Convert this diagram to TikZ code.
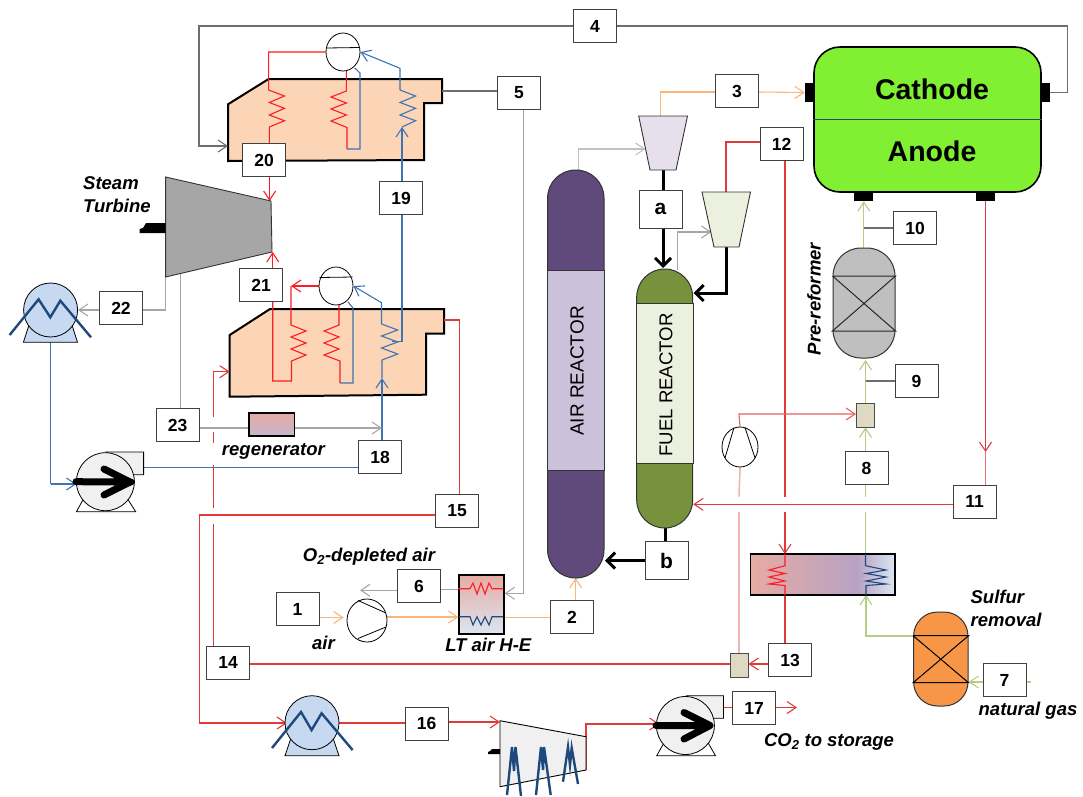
\documentclass[tikz,border=0pt]{standalone}
\usepackage{fontspec}
\setmainfont{Liberation Sans}
\usepackage{xcolor}
\definecolor{strred}{HTML}{E03A3A}
\definecolor{coilred}{HTML}{FF1C24}
\definecolor{pinkred}{HTML}{F0B4B4}
\definecolor{strblue}{HTML}{3F74B4}
\definecolor{deepblue}{HTML}{1F497D}
\definecolor{strgray}{HTML}{A6A6A6}
\definecolor{midgray}{HTML}{6E6E6E}
\definecolor{strorange}{HTML}{F8B67C}
\definecolor{strgreen}{HTML}{B4CC84}
\definecolor{hrsgfill}{HTML}{FBD5B5}
\definecolor{airdk}{HTML}{604A7B}
\definecolor{airlt}{HTML}{CCC1DA}
\definecolor{fueldk}{HTML}{76923C}
\definecolor{fuellt}{HTML}{EBF1DE}
\definecolor{cellgreen}{HTML}{82F032}
\definecolor{sulffill}{HTML}{F79646}
\definecolor{hot}{HTML}{E6ABA3}
\definecolor{mid}{HTML}{B7A2C4}
\definecolor{cold}{HTML}{DCE6F2}
\definecolor{condblue}{HTML}{C6D9F1}
\definecolor{mixfill}{HTML}{DDD9C3}
\usepackage{tikz}
\usetikzlibrary{arrows.meta,positioning,calc,shapes.geometric,backgrounds}
\pgfdeclarehorizontalshading{coolshade}{100bp}{color(0bp)=(hot); color(25bp)=(hot); color(62bp)=(mid); color(75bp)=(cold); color(100bp)=(cold)}
\tikzset{
  >={Straight Barb[length=9pt,width=12pt]},
  numbox/.style={draw=black!75,line width=0.9pt,fill=white,minimum width=43,minimum height=33,inner sep=0pt,font=\fontsize{17.5}{20}\selectfont\bfseries},
  lab/.style={font=\fontsize{18.5}{22}\selectfont\bfseries\itshape,inner sep=0pt},
  vessel/.style={draw=black!80,line width=1pt,inner sep=0pt,rounded corners=28},
  port/.style={fill=black,inner sep=0pt},
  mixbox/.style={draw=black!70,line width=0.9pt,fill=mixfill,minimum width=18,minimum height=24,inner sep=0pt},
  drum/.style={ellipse,draw=black,line width=0.8pt,fill=white,minimum width=34,minimum height=38,inner sep=0pt},
  arr/.style={->,line width=1.1pt},
  lin/.style={line width=1.1pt},
  fat/.style={line width=3pt,-{Straight Barb[length=8pt,width=16pt]}},
  zig/.style={line width=2.4pt,draw=deepblue},
}
\begin{document}
\begin{tikzpicture}[x=1pt,y=-1pt]
\useasboundingbox (0,0) rectangle (1083,796);
% fuel cell
\node[draw=black,line width=1.6pt,fill=cellgreen,rounded corners=26,minimum width=227,minimum height=145,inner sep=0pt] (cell) at (927.5,119.5) {};
\draw[deepblue,line width=0.7pt] (cell.west) -- (cell.east);
\node[font=\fontsize{28.5}{30}\selectfont\bfseries] (cathode) at (932,89) {Cathode};
\node[font=\fontsize{28.5}{30}\selectfont\bfseries] (anode) at (932,151) {Anode};
\node[port,minimum width=9,minimum height=19] (cathin) at (809.5,92.5) {};
\node[port,minimum width=9,minimum height=19] (cathout) at (1045.5,92.5) {};
\node[port,minimum width=19,minimum height=9] (anin) at (863.5,196.5) {};
\node[port,minimum width=19,minimum height=9] (anout) at (985.5,196.5) {};
% reactors
\node[vessel,fill=airdk,minimum width=56.4,minimum height=408] (airr) at (575.8,374) {};
\draw[draw=black!80,line width=1pt,fill=airlt] (airr.west |- 0,270.7) rectangle (airr.east |- 0,470);
\node[rotate=90,font=\fontsize{19}{22}\selectfont] (airlab) at (577,371) {AIR REACTOR};
\node[vessel,fill=fueldk,minimum width=56,minimum height=259] (fuelr) at (664.7,398.5) {};
\draw[draw=black!80,line width=1pt,fill=fuellt] (fuelr.west |- 0,303) rectangle (fuelr.east |- 0,463);
\node[rotate=90,font=\fontsize{18.6}{22}\selectfont] (fuellab) at (666,385) {FUEL REACTOR};
% expanders
\draw[black!80,line width=0.9pt,fill=airlt!50] (638.7,116) -- (687.5,116) -- (676,170) -- (650,170) -- cycle;
\draw[black!80,line width=0.9pt,fill=fuellt] (702,192) -- (750.5,192) -- (739,247) -- (714,247) -- cycle;
% pre-reformer and sulfur bed
\node[vessel,fill=black!25,minimum width=62,minimum height=110] (prer) at (864,303) {};
\draw[black!85,line width=1pt] (prer.west |- 0,276) -- (prer.east |- 0,276) -- (prer.west |- 0,331) -- (prer.east |- 0,331) -- (prer.west |- 0,276) -- (prer.east |- 0,331);
\node[vessel,rounded corners=24,minimum width=54.4,minimum height=94,fill=sulffill] (sulf) at (940.8,659) {};
\draw[black,line width=1pt] (sulf.west |- 0,635.7) -- (sulf.east |- 0,635.7) -- (sulf.west |- 0,682.7) -- (sulf.east |- 0,682.7) -- (sulf.west |- 0,635.7) -- (sulf.east |- 0,682.7);
% turbine
\draw[black!80,line width=0.9pt,fill=black!35] (165.6,177) -- (271,201) -- (272,252) -- (165.6,277) -- cycle;
\fill[black] (139.5,233) -- (165.6,233) -- (165.6,223) -- (146,223) -- (143,228) -- (139.5,229) -- cycle;
% heat exchangers
\node[draw=black,line width=1.2pt,top color=hot,middle color=mid,bottom color=cold,minimum width=45,minimum height=59,inner sep=0pt] (lthe) at (481.5,604.5) {};
\node[draw=black,line width=1.2pt,top color=hot,bottom color=mid!80,minimum width=45.5,minimum height=23,inner sep=0pt] (regen) at (271.7,424.5) {};
\node[draw=black,line width=1.2pt,shading=coolshade,minimum width=144.5,minimum height=41,inner sep=0pt] (cooler) at (822.7,574.5) {};
\node[mixbox] (mixa) at (865.5,415) {};
\node[mixbox] (mixb) at (739,665) {};
% drums, compressors
\node[drum] (drumup) at (343,52) {};
\draw[black,line width=0.8pt] (326.5,48) -- (359.5,47.5);
\node[drum] (drumlo) at (336,286) {};
\draw[black,line width=0.8pt] (319.5,277.5) -- (352.5,277);
\node[drum,minimum width=40,minimum height=43] (aircomp) at (367,620.5) {};
\draw[black,line width=0.8pt] (358,600.5) -- (386,613) (358,638.5) -- (386,627);
\node[drum,minimum width=36,minimum height=40] (recyc) at (740,447) {};
\draw[black,line width=0.8pt] (734,427.5) -- (725,458) (745,427.5) -- (755,458);
% condensers
\draw[black,line width=0.8pt,fill=condblue] (29,325) -- (23.4,342.3) -- (77.5,342.3) -- (72,325) -- cycle;
\node[circle,draw=black,line width=0.8pt,fill=condblue,minimum size=54,inner sep=0pt] (condup) at (50.6,310) {};
\draw[zig] (9.6,335) -- (38.6,299.3) -- (50.3,317.3) -- (60.3,300.7) -- (91,337.3);
\draw[black,line width=0.8pt,fill=condblue] (291,738) -- (285,755.7) -- (339,755.7) -- (333,738) -- cycle;
\node[circle,draw=black,line width=0.8pt,fill=condblue,minimum size=54,inner sep=0pt] (condlo) at (312,722.7) {};
\draw[zig] (272,748) -- (301,712) -- (311.6,730) -- (321.6,713.3) -- (352.6,750);
% pumps
\draw[black,line width=0.8pt,fill=black!6] (106,452) -- (143.6,452) -- (143.6,474.7) -- (125,474.7) -- cycle;
\draw[black,line width=0.8pt] (84,498) -- (76.4,511.7) -- (135.7,511.7) -- (127,498);
\node[circle,draw=black,line width=0.8pt,fill=black!6,minimum size=58,inner sep=0pt] (pumpa) at (105.4,481.7) {};
\draw[line width=7pt,line cap=round,line join=round] (pumpa.west) -- (131,482) (104,469) -- (130,482) -- (104,495);
\draw[black,line width=0.8pt,fill=black!6] (686.5,695.7) -- (723.5,695.7) -- (723.5,718.3) -- (705,718.3) -- cycle;
\draw[black,line width=0.8pt] (665,741) -- (656.7,755.7) -- (715.5,755.7) -- (707,741);
\node[circle,draw=black,line width=0.8pt,fill=black!6,minimum size=58,inner sep=0pt] (pumpb) at (685.4,725.5) {};
\draw[line width=7pt,line cap=round,line join=round] (pumpb.west) -- (710,725.5) (684,712.5) -- (710,725.5) -- (684,739);
% co2 compressor
\draw[black,line width=0.9pt,fill=black!6] (500,720.7) -- (586,736.7) -- (586,770) -- (500,786.7) -- cycle;
\fill[black] (488,754) -- (500,754) -- (500,749) -- (492,749) -- (490,751) -- (488,752) -- cycle;
\draw[zig] (507,795) -- (512,747) -- (514,771) -- (515.5,747) -- (521,796);
\draw[zig] (536,795) -- (541,747) -- (543,770) -- (544,747) -- (550.7,795);
\draw[zig] (563,781.7) -- (568,747) -- (570,765) -- (571.7,748) -- (578,784);
% numbers
\node[numbox] (s1) at (297.5,609) {1};
\node[numbox] (s2) at (572,617) {2};
\node[numbox] (s3) at (737,91) {3};
\node[numbox] (s4) at (595,26) {4};
\node[numbox] (s5) at (519,93) {5};
\node[numbox] (s6) at (419,586) {6};
\node[numbox] (s7) at (1004.5,680) {7};
\node[numbox] (s8) at (866.5,468) {8};
\node[numbox] (s9) at (916.5,381) {9};
\node[numbox] (s10) at (915,228) {10};
\node[numbox] (s11) at (974.5,501.5) {11};
\node[numbox] (s12) at (781.5,144) {12};
\node[numbox] (s13) at (790,660) {13};
\node[numbox] (s14) at (228,662.5) {14};
\node[numbox] (s15) at (457,511) {15};
\node[numbox] (s16) at (426.5,723.5) {16};
\node[numbox] (s17) at (754,708) {17};
\node[numbox] (s18) at (380,457) {18};
\node[numbox] (s19) at (401,198) {19};
\node[numbox] (s20) at (264,160) {20};
\node[numbox] (s21) at (261,285) {21};
\node[numbox] (s22) at (121,308) {22};
\node[numbox] (s23) at (177.5,425) {23};
\node[numbox,minimum height=38,font=\fontsize{21}{24}\selectfont\bfseries] (sa) at (660.5,209) {a};
\node[numbox,minimum height=38,font=\fontsize{21}{24}\selectfont\bfseries] (sb) at (666.5,560.5) {b};
% labels
\node[lab,align=left,anchor=west] (steam) at (83,194.5) {Steam\\[1pt]Turbine};
\node[lab] (regenlab) at (273.4,451) {regenerator};
\node[lab] (depleted) at (369,556.7) {O\textsubscript{2}-depleted air};
\node[lab] (airlab2) at (323.5,643) {air};
\node[lab] (ltlab) at (488.3,645) {LT air H-E};
\node[lab,rotate=90] (prelab) at (814,299) {Pre-reformer};
\node[lab,align=left,anchor=west] (sulflab) at (970.4,608) {Sulfur\\[1pt]removal};
\node[lab] (nglab) at (1028,711) {natural gas};
\node[lab] (co2lab) at (829,741.7) {CO\textsubscript{2} to storage};
% coils in the small exchangers
\draw[lin,coilred] (458,588.7) -- (470,588.7) -- (473,583) -- (477,594) -- (481,583) -- (485,594) -- (489,583) -- (492,588.7) -- (503,588.7);
\draw[lin,deepblue] (459,616.7) -- (470,616.7) -- (473,625) -- (477,616.7) -- (481,625) -- (485,616.7) -- (489,625) -- (492,616.7) -- (503,616.7);
\draw[lin,coilred] (785,554) -- (785,565.7) -- (769,570) -- (785,573.5) -- (769,577) -- (785,581) -- (769,584) -- (785,585.5) -- (785,595);
\draw[lin,deepblue] (865.5,554) -- (865.5,565.7) -- (886,570) -- (866,573.5) -- (886,577) -- (866,581) -- (886,584) -- (866,585.5) -- (866,595);
\begin{scope}[on background layer]
% boilers
\draw[black,line width=2pt,fill=hrsgfill] (228,104.3) -- (268.6,79) -- (442,79) -- (442,103) -- (424,103) -- (424,160) -- (228,161) -- cycle;
\draw[black,line width=2pt,fill=hrsgfill] (229.7,335) -- (270,309) -- (444,309) -- (444,333.7) -- (426,333.7) -- (426,394.7) -- (229.7,396.7) -- cycle;
% upper coils
\draw[lin,coilred] (drumup.west) -- (268.6,52) -- (268.6,90) -- (284.5,96) -- (269.3,102.5) -- (284.5,108.3) -- (269.3,115) -- (284.5,120.7) -- (269.3,127) -- (269.3,144);
\draw[lin,coilred] (346.4,70) -- (346.4,91) -- (331,97) -- (346.4,103) -- (331,109) -- (346.4,115) -- (331,121) -- (347,127.5) -- (347,149);
\draw[lin,strblue] (347,149) -- (360,149) -- (360,73) -- (354.7,68);
\draw[arr,strblue] (400,90) -- (400,68.3) -- (drumup.east);
\draw[lin,strblue] (400,90) -- (415.6,96) -- (400,102.5) -- (415.6,108.3) -- (400,115) -- (415.6,120.7) -- (402,127);
\draw[arr,strblue] (s19.north -| 402,0) -- (402,127);
% lower coils
\draw[arr,coilred] (drumlo.west) -- (291,286);
\draw[lin,coilred] (291,286) -- (291,325) -- (306,331) -- (291,337) -- (306,343) -- (291,349) -- (306,355) -- (291.5,361) -- (291.5,381) -- (272.7,381) -- (s21.south -| 272.7,0);
\draw[arr,coilred] (s21.north -| 272.7,0) -- (272.7,252);
\draw[lin,coilred] (339,303) -- (339,325) -- (324,331) -- (339,337) -- (324,343) -- (339,349) -- (324,355) -- (340,361) -- (340,383);
\draw[lin,strblue] (340,383) -- (353,383) -- (353,308) -- (347.8,301.7);
\draw[arr,strblue] (381.5,324) -- (381.5,302.7) -- (drumlo.east);
\draw[lin,strblue] (381.5,324) -- (397.7,330) -- (381.5,336) -- (397.7,342) -- (381.5,348) -- (397.7,354) -- (382,360) -- (382,378);
\draw[arr,strblue] (s18.north -| 382,0) -- (382,378);
\draw[lin,strblue] (s19.south -| 402,0) -- (402,341.7) -- (392,341.7);
% steam side
\draw[arr,coilred] (s20.south -| 269.6,0) -- (269.6,201);
\draw[lin,strgray] (165.6,277) -- (165.6,310) -- (s22.east |- 0,310);
\draw[arr,strgray] (s22.west |- 0,310) -- (condup.east);
\draw[lin,strblue] (condup.south |- 0,342) -- (50.6,484);
\draw[arr,strblue] (50.6,484) -- (76.4,484);
\draw[lin,strblue] (s18.west |- 0,467.7) -- (143.6,467.7);
\draw[lin,strgray] (180.8,273) -- (s23.north -| 180.8,0);
\draw[arr,strgray] (s23.east |- 0,428) -- (382,428);
% flue gas
\draw[lin,midgray] (cathout.east) -- (1067.5,92.5) -- (1067.5,26) -- (s4.east);
\draw[arr,midgray] (s4.west) -- (199,26) -- (199,146) -- (228,146);
\draw[lin,midgray] (442,91) -- (s5.west |- 0,91);
\draw[arr,strgray] (s5.south -| 523.8,0) -- (523.8,593.3) -- (lthe.east |- 0,593.3);
\draw[lin,strgray] (lthe.west |- 0,589.3) -- (s6.east |- 0,589.3);
\draw[arr,strgray] (s6.west |- 0,590.3) -- (360,590.3);
% air side
\draw[arr,strorange] (s1.east |- 0,617.5) -- (343.7,617.5);
\draw[arr,strorange] (387,617) -- (lthe.west |- 0,617);
\draw[lin,strorange] (lthe.east |- 0,617.3) -- (s2.west |- 0,617.3);
\draw[arr,strorange] (s2.north -| 575.7,0) -- (575.7,578);
\draw[arr,strgray!70] (578.4,170) -- (578.4,149) -- (645.6,149);
\draw[lin,strorange] (660.5,116) -- (660.5,92) -- (s3.west |- 0,92);
\draw[arr,strorange] (s3.east |- 0,92) -- (cathin.west);
% carrier loop
\draw[line width=3pt] (663,170) -- (sa.north -| 663,0);
\draw[fat] (sa.south -| 663,0) -- (663,268);
\draw[arr,strgray] (677.8,270) -- (677.8,232) -- (711.4,232);
\draw[fat] (726,247) -- (726,293) -- (693.5,293);
\draw[line width=3pt] (665.7,528) -- (sb.north -| 665.7,0);
\draw[fat] (sb.west) -- (605,560.5);
% fuel side
\draw[lin,strred] (726,192) -- (726,142) -- (s12.west |- 0,142);
\draw[lin,strred] (s12.south -| 785,0) -- (785,496.7);
\draw[arr,strred] (785,511.7) -- (785,554);
\draw[lin,strred] (cooler.south -| 785,0) -- (s13.north -| 785,0);
\draw[arr,strred] (s13.west |- 0,664) -- (mixb.east |- 0,664);
\draw[lin,strred] (mixb.west |- 0,664) -- (s14.east |- 0,664);
\draw[lin,strred] (213.5,646) -- (213.5,524);
\draw[lin,strred] (213.5,508) -- (213.5,465);
\draw[lin,strred] (213.5,443) -- (213.5,432);
\draw[arr,strred] (213.5,416.7) -- (213.5,371.7) -- (229.7,371.7);
\draw[lin,strred] (444,320) -- (459.4,320) -- (s15.north -| 459.4,0);
\draw[arr,strred] (s15.west |- 0,515) -- (199.4,515) -- (199.4,723) -- (287,723);
\draw[lin,strred] (339,723) -- (s16.west |- 0,723);
\draw[arr,strred] (s16.east |- 0,722) -- (500,722);
\draw[arr,strred] (586,770) -- (586,724) -- (659.5,724);
\draw[lin,strred] (723.5,707.5) -- (s17.west |- 0,707.5);
\draw[arr,strred] (s17.east |- 0,707.5) -- (797,707.5);
\draw[line width=1.6pt,pinkred] (mixb.north) -- (739,511.7);
\draw[line width=1.6pt,pinkred] (739,496.7) -- (recyc.south);
\draw[arr,strred!80] (recyc.north) -- (739,414) -- (mixa.west |- 0,414);
\draw[arr,strgreen] (s7.west |- 0,682) -- (sulf.east |- 0,682);
\draw[lin,strgreen] (s7.east |- 0,682) -- (1031,682);
\draw[arr,strgreen] (sulf.west |- 0,636) -- (866,636) -- (866,595);
\draw[lin,strgreen] (865.5,554) -- (865.5,511.7);
\draw[lin,strgreen] (865.5,496.7) -- (s8.south -| 865.5,0);
\draw[arr,strgreen] (s8.north -| 865.5,0) -- (mixa.south);
\draw[arr,strgreen] (mixa.north) -- (865.5,360);
\draw[lin,midgray] (865.5,381) -- (s9.west);
\draw[arr,strgreen] (prer.north -| 863.8,0) -- (anin.south -| 863.8,0);
\draw[lin,midgray] (863.8,228) -- (s10.west);
\draw[arr,strred] (anout.south) -- (985.5,452);
\draw[lin,strred!70] (985.5,452) -- (s11.north -| 985.5,0);
\draw[arr,strred] (s11.west |- 0,504.3) -- (fuelr.east |- 0,504.3);
\end{scope}
\end{tikzpicture}
\end{document}
